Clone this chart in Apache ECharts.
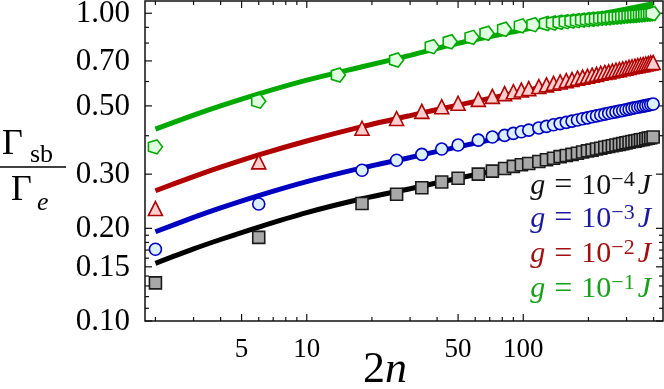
<!DOCTYPE html>
<html>
<head>
<meta charset="utf-8">
<script src="https://cdn.jsdelivr.net/npm/echarts@6/dist/echarts.min.js"></script>
<style>
html,body{margin:0;padding:0;background:#fff;}
#ChartMain{width:664px;height:389px;}
</style>
</head>
<body>
<div id="ChartMain"></div>
<script>
// 2n 取值 (黑/蓝/红三组)
var nMain = [2, 6, 18, 26, 34, 42, 50, 62, 72, 82, 90, 98, 106, 118, 128, 138, 148, 158, 168, 178, 188, 198, 208, 218, 228, 238, 248, 258, 268, 278, 288, 298, 308, 318, 328, 338, 348, 358, 368, 378, 388, 398];
// 绿色组的 2n
var nGreen = [2, 6, 14, 26, 38, 46, 58, 68, 82, 98, 112, 128, 138, 148, 158, 168, 178, 188, 198, 208, 218, 228, 238, 248, 258, 268, 278, 288, 298, 308, 318, 328, 338, 348, 358, 368, 378, 388, 398];

var ptsK = [0.133, 0.187, 0.241, 0.258, 0.271, 0.283, 0.291, 0.300, 0.307, 0.313, 0.318, 0.322, 0.325, 0.330, 0.334, 0.338, 0.342, 0.345, 0.348, 0.351, 0.354, 0.357, 0.359, 0.362, 0.364, 0.367, 0.369, 0.371, 0.373, 0.375, 0.377, 0.379, 0.381, 0.383, 0.384, 0.386, 0.388, 0.389, 0.391, 0.393, 0.394, 0.396];
var ptsB = [0.171, 0.240, 0.309, 0.333, 0.348, 0.362, 0.373, 0.387, 0.396, 0.401, 0.407, 0.412, 0.417, 0.424, 0.429, 0.434, 0.438, 0.442, 0.446, 0.450, 0.454, 0.457, 0.461, 0.464, 0.467, 0.470, 0.473, 0.476, 0.478, 0.481, 0.483, 0.486, 0.488, 0.491, 0.493, 0.495, 0.497, 0.499, 0.501, 0.503, 0.505, 0.507];
var ptsR = [0.232, 0.329, 0.423, 0.455, 0.480, 0.497, 0.510, 0.525, 0.537, 0.548, 0.556, 0.563, 0.569, 0.578, 0.585, 0.592, 0.598, 0.604, 0.609, 0.615, 0.620, 0.624, 0.629, 0.633, 0.638, 0.642, 0.645, 0.649, 0.653, 0.656, 0.660, 0.663, 0.667, 0.670, 0.673, 0.676, 0.679, 0.681, 0.684, 0.687, 0.690, 0.692];
var ptsG = [0.368, 0.518, 0.630, 0.705, 0.779, 0.808, 0.835, 0.861, 0.887, 0.910, 0.918, 0.926, 0.930, 0.935, 0.939, 0.943, 0.946, 0.950, 0.953, 0.956, 0.959, 0.962, 0.964, 0.967, 0.970, 0.972, 0.974, 0.977, 0.979, 0.981, 0.983, 0.985, 0.987, 0.989, 0.991, 0.993, 0.994, 0.996, 0.998];

// 理论曲线
var curveN = [2, 3, 4, 6, 10, 18, 30, 50, 100, 200, 398];
var curveK = [0.154, 0.1715, 0.184, 0.202, 0.225, 0.2495, 0.269, 0.291, 0.322, 0.357, 0.394];
var curveB = [0.195, 0.217, 0.233, 0.2555, 0.2836, 0.3144, 0.340, 0.368, 0.409, 0.453, 0.506];
var curveR = [0.265, 0.2945, 0.316, 0.3465, 0.3845, 0.428, 0.465, 0.503, 0.558, 0.619, 0.687];
var curveG = [0.420, 0.4664, 0.500, 0.547, 0.606, 0.670, 0.730, 0.799, 0.883, 0.976, 1.075];

// 刻度
var xTickLabels = [5, 10, 50, 100];
var xMinorTicks = [2, 3, 4, 6, 7, 8, 9, 20, 30, 40, 60, 70, 80, 90, 200, 300, 400];
var yTickLabels = [0.10, 0.15, 0.20, 0.30, 0.50, 0.70, 1.00];
var yMinorTicks = [0.11, 0.12, 0.13, 0.14, 0.16, 0.17, 0.18, 0.19, 0.4, 0.6, 0.8, 0.9];

var legendTexts = ['−4', '−3', '−2', '−1'];
var colK = '#000000', colB = '#0000c0', colR = '#b00000', colG = '#00a800';
var SERIF = '"Liberation Serif", "DejaVu Serif", serif';
var PENTA = 'path://M100,50 L65.45,97.55 L9.55,79.39 L9.55,20.61 L65.45,2.45 Z';

function pairs(xs, ys) {
    var out = [];
    for (var i = 0; i < xs.length; i++) out.push([xs[i], ys[i]]);
    return out;
}

var XMIN = 1.79, XMAX = 442, YMIN = 0.1, YMAX = 1.096;
var chart = echarts.init(document.getElementById('ChartMain'));

function lineSeries(ys, col) {
    return {type: 'line', data: pairs(curveN, ys), smooth: 0.3, showSymbol: false,
        lineStyle: {color: col, width: 5}, z: 2, silent: true};
}
function dotSeries(xs, ys, sym, size, fill, col) {
    return {type: 'scatter', data: pairs(xs, ys), symbol: sym, symbolSize: size,
        itemStyle: {color: fill, borderColor: col, borderWidth: 1.6, opacity: 1}, z: 3, silent: true};
}

var option = {
    animation: false,
    grid: {left: 145, right: 1, top: 1, bottom: 68, show: true, borderColor: '#111', borderWidth: 1.5, backgroundColor: '#fff'},
    xAxis: {type: 'log', logBase: 10, min: XMIN, max: XMAX,
        axisLine: {show: false}, axisTick: {show: false}, axisLabel: {show: false}, splitLine: {show: false}},
    yAxis: {type: 'log', logBase: 10, min: YMIN, max: YMAX,
        axisLine: {show: false}, axisTick: {show: false}, axisLabel: {show: false}, splitLine: {show: false}},
    series: [
        lineSeries(curveK, colK),
        lineSeries(curveB, colB),
        lineSeries(curveR, colR),
        lineSeries(curveG, colG),
        dotSeries(nMain, ptsK, 'rect', 12, '#a8a8a8', '#1a1a1a'),
        dotSeries(nMain, ptsB, 'circle', 12, '#dcefff', colB),
        dotSeries(nMain, ptsR, 'triangle', 14, '#ffcfcf', colR),
        dotSeries(nGreen, ptsG, PENTA, 14, '#e0ffe0', colG)
    ]
};
chart.setOption(option);

// 刻度与文字
function addTicks() {
    var els = [];
    var bl = chart.convertToPixel({gridIndex: 0}, [XMIN, YMIN]);
    var tr = chart.convertToPixel({gridIndex: 0}, [XMAX, YMAX]);
    var L = bl[0], B = bl[1], R = tr[0], T = tr[1];
    function tick(x1, y1, x2, y2) {
        els.push({type: 'line', silent: true, shape: {x1: x1, y1: y1, x2: x2, y2: y2},
            style: {stroke: '#111', lineWidth: 1.2}});
    }
    function txt(x, y, s, font, fill, align) {
        els.push({type: 'text', x: x, y: y, silent: true,
            style: {text: s, font: font, fill: fill || '#000', align: align || 'center', verticalAlign: 'middle'}});
    }
    xTickLabels.forEach(function (v) {
        var px = chart.convertToPixel({xAxisIndex: 0}, v);
        tick(px, B, px, B - 7); tick(px, T, px, T + 7);
        txt(px, 350, String(v), '27px ' + SERIF);
    });
    xMinorTicks.forEach(function (v) {
        var px = chart.convertToPixel({xAxisIndex: 0}, v);
        tick(px, B, px, B - 4); tick(px, T, px, T + 4);
    });
    yTickLabels.forEach(function (v) {
        var py = chart.convertToPixel({yAxisIndex: 0}, v);
        tick(L, py, L + 7, py); tick(R, py, R - 7, py);
        txt(130, py + 1, v.toFixed(2), '31px ' + SERIF, '#000', 'right');
    });
    yMinorTicks.forEach(function (v) {
        var py = chart.convertToPixel({yAxisIndex: 0}, v);
        tick(L, py, L + 4, py); tick(R, py, R - 4, py);
    });

    // 纵轴标题 Γsb / Γe
    txt(2, 145, 'Γ', '36px ' + SERIF, '#000', 'left');
    txt(30, 155, 'sb', '26px ' + SERIF, '#000', 'left');
    els.push({type: 'line', silent: true, shape: {x1: 0, y1: 167, x2: 66, y2: 167}, style: {stroke: '#000', lineWidth: 1.5}});
    txt(11, 191, 'Γ', '36px ' + SERIF, '#000', 'left');
    txt(37, 203, 'e', 'italic 26px ' + SERIF, '#000', 'left');

    // 横轴标题 2n
    els.push({type: 'text', x: 385, y: 370, silent: true,
        style: {text: '{a|2}{b|n}', align: 'center', verticalAlign: 'middle',
            rich: {a: {font: '44px ' + SERIF, fill: '#000'}, b: {font: 'italic 44px ' + SERIF, fill: '#000'}}}});

    // 图例文字
    var cols = ['#111111', '#1a1aa0', '#a01010', '#18a018'];
    var ys = [186, 219, 254.5, 289.5];
    for (var i = 0; i < 4; i++) {
        var c = cols[i];
        els.push({type: 'text', x: 651, y: ys[i], silent: true,
            style: {text: '{i|g}{e|=}{n|10}{s|' + legendTexts[i] + '}{j|J}', align: 'right', verticalAlign: 'middle',
                rich: {
                    i: {font: 'italic 30px ' + SERIF, fill: c, lineHeight: 34},
                    e: {font: '32px ' + SERIF, fill: c, lineHeight: 34, padding: [0, 9, 0, 9]},
                    n: {font: '30px ' + SERIF, fill: c, lineHeight: 34},
                    s: {font: '22px ' + SERIF, fill: c, lineHeight: 22, verticalAlign: 'top'},
                    j: {font: 'italic 30px ' + SERIF, fill: c, lineHeight: 34, padding: [0, 0, 0, 3]}
                }}});
    }
    chart.setOption({graphic: {elements: els}});
}
addTicks();
</script>
</body>
</html>
